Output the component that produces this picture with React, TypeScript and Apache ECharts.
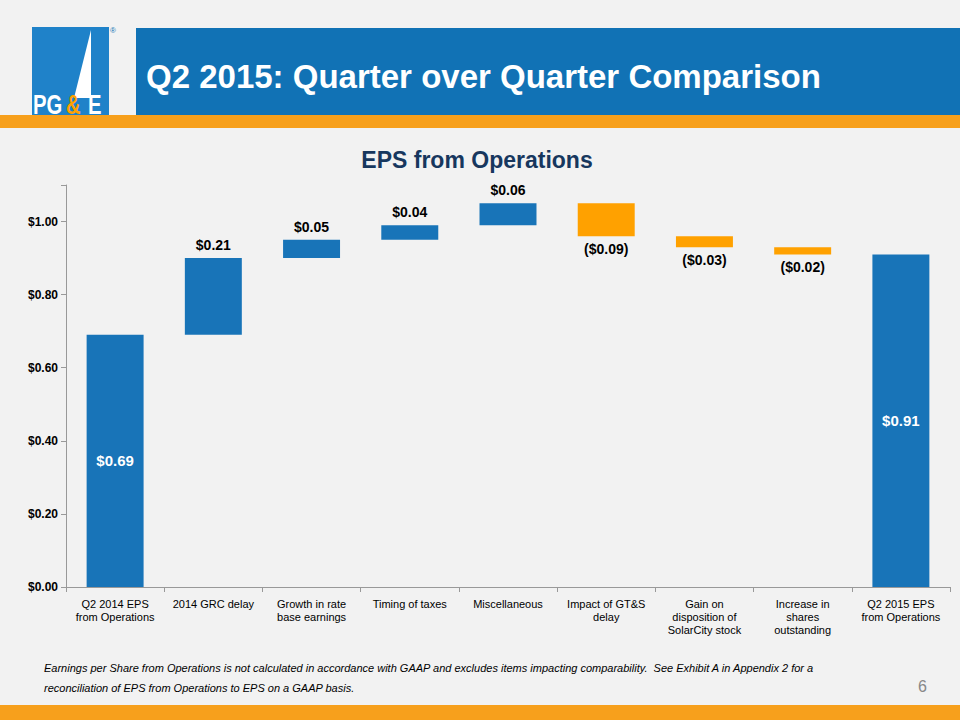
import React, { useEffect, useRef } from "react";
import * as echarts from "echarts";

const categories = [
  "Q2 2014 EPS\nfrom Operations",
  "2014 GRC delay",
  "Growth in rate\nbase earnings",
  "Timing of taxes",
  "Miscellaneous",
  "Impact of GT&S\ndelay",
  "Gain on\ndisposition of\nSolarCity stock",
  "Increase in\nshares\noutstanding",
  "Q2 2015 EPS\nfrom Operations",
];
const baseValues = [0, 0.69, 0.9, 0.95, 0.99, 0.96, 0.93, 0.91, 0];
const barValues = [0.69, 0.21, 0.05, 0.04, 0.06, 0.09, 0.03, 0.02, 0.91];
const barLabels = ["$0.69", "$0.21", "$0.05", "$0.04", "$0.06", "($0.09)", "($0.03)", "($0.02)", "$0.91"];
const negative = [false, false, false, false, false, true, true, true, false];
const yTicks = [0, 0.2, 0.4, 0.6, 0.8, 1.0];

const BLUE = "#1874b8";
const ORANGE = "#ffa100";

export default function App() {
  const ref = useRef<HTMLDivElement>(null);
  useEffect(() => {
    document.body.style.margin = "0";
    const chart = echarts.init(ref.current!, null, { renderer: "svg" });
    const font = "Arial, 'Liberation Sans', sans-serif";
    chart.setOption({
      animation: false,
      backgroundColor: "#f2f2f2",
      textStyle: { fontFamily: font },
      grid: { left: 66, right: 10, top: 185, bottom: 133 },
      xAxis: {
        type: "category",
        data: categories,
        axisLine: { lineStyle: { color: "#999" } },
        axisTick: { show: true, lineStyle: { color: "#999" } },
        axisLabel: { color: "#000", fontSize: 11, lineHeight: 13, interval: 0, margin: 10 },
      },
      yAxis: {
        type: "value",
        min: 0,
        max: 1.1,
        interval: 0.2,
        splitLine: { show: false },
        axisLine: { show: true, lineStyle: { color: "#999" } },
        axisTick: { show: true, lineStyle: { color: "#999" } },
        axisLabel: {
          color: "#000",
          fontSize: 12,
          fontWeight: "bold",
          formatter: (v: number) => (yTicks.some((t) => Math.abs(t - v) < 1e-6) ? "$" + v.toFixed(2) : ""),
        },
      },
      series: [
        {
          type: "bar",
          stack: "w",
          data: baseValues,
          itemStyle: { color: "transparent" },
          silent: true,
        },
        {
          type: "bar",
          stack: "w",
          barCategoryGap: "42%",
          data: barValues.map((v, i) => {
            const inside = i === 0 || i === 8;
            return {
              value: v,
              itemStyle: { color: negative[i] ? ORANGE : BLUE },
              label: {
                show: true,
                formatter: barLabels[i],
                position: inside ? "inside" : negative[i] ? "bottom" : "top",
                distance: 6,
                color: inside ? "#fff" : "#000",
                fontSize: inside ? 15 : 14,
                fontWeight: "bold",
              },
            };
          }),
        },
      ],
      graphic: [
        { type: "rect", shape: { x: 136, y: 28, width: 824, height: 88 }, style: { fill: "#1172b5" } },
        {
          type: "text",
          x: 146,
          y: 76,
          style: { text: "Q2 2015: Quarter over Quarter Comparison", fill: "#fff", font: `bold 33px ${font}`, textVerticalAlign: "middle" },
        },
        { type: "rect", shape: { x: 32, y: 27, width: 77, height: 89 }, style: { fill: "#1f82c9" } },
        { type: "polygon", shape: { points: [[91, 30], [74, 98], [91, 98]] }, style: { fill: "#fff" } },
        { type: "text", x: 33, y: 91, scaleX: 0.75, style: { text: "PG", fill: "#fff", font: `bold 27px ${font}` } },
        { type: "text", x: 66, y: 91, scaleX: 0.75, style: { text: "&", fill: ORANGE, font: `bold 27px ${font}` } },
        { type: "text", x: 88, y: 91, scaleX: 0.75, style: { text: "E", fill: "#fff", font: `bold 27px ${font}` } },
        { type: "text", x: 110, y: 26, style: { text: "®", fill: "#1172b5", font: `8px ${font}` } },
        { type: "rect", shape: { x: 0, y: 115, width: 960, height: 13 }, style: { fill: "#f7a01c" } },
        {
          type: "text",
          x: 477,
          y: 160,
          style: { text: "EPS from Operations", fill: "#17375e", font: `bold 23px ${font}`, textAlign: "center", textVerticalAlign: "middle" },
        },
        {
          type: "text",
          x: 44,
          y: 658,
          style: {
            text:
              "Earnings per Share from Operations is not calculated in accordance with GAAP and excludes items impacting comparability.  See Exhibit A in Appendix 2 for a\nreconciliation of EPS from Operations to EPS on a GAAP basis.",
            fill: "#000",
            font: `italic 11px ${font}`,
            lineHeight: 20,
          },
        },
        { type: "text", x: 918, y: 678, style: { text: "6", fill: "#888", font: `16px ${font}` } },
        { type: "rect", shape: { x: 0, y: 705, width: 960, height: 15 }, style: { fill: "#f7a01c" } },
      ],
    });
    return () => chart.dispose();
  }, []);
  return <div ref={ref} style={{ width: 960, height: 720 }} />;
}
